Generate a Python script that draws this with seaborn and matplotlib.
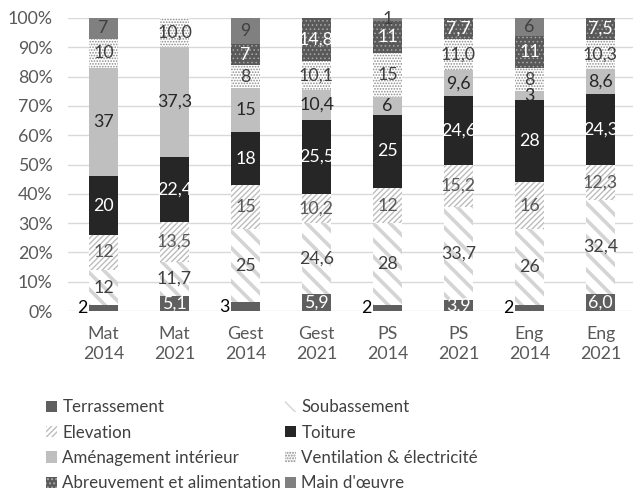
import matplotlib
matplotlib.use("Agg")
import matplotlib.pyplot as plt
from matplotlib.patches import Patch
import seaborn as sns
import numpy as np
import pandas as pd

sns.set_theme(style="white")
plt.rcParams["font.family"] = ["Lato", "DejaVu Sans"]

groups = ["Mat\n2014", "Mat\n2021", "Gest\n2014", "Gest\n2021",
          "PS\n2014", "PS\n2021", "Eng\n2014", "Eng\n2021"]
years = [2014, 2021, 2014, 2021, 2014, 2021, 2014, 2021]

series = ["Terrassement", "Soubassement", "Elevation", "Toiture",
          "Aménagement intérieur", "Ventilation & électricité",
          "Abreuvement et alimentation", "Main d'œuvre"]
terrassement = [2, 5.1, 3, 5.9, 2, 3.9, 2, 6.0]
soubassement = [12, 11.7, 25, 24.6, 28, 33.7, 26, 32.4]
elevation = [12, 13.5, 15, 10.2, 12, 15.2, 16, 12.3]
toiture = [20, 22.4, 18, 25.5, 25, 24.6, 28, 24.3]
amenagement = [37, 37.3, 15, 10.4, 6, 9.6, 3, 8.6]
ventilation = [10, 10.0, 8, 10.1, 15, 11.0, 8, 10.3]
abreuvement = [0, 0, 7, 14.8, 11, 7.7, 11, 7.5]
main_oeuvre = [7, 0, 9, 0, 1, 0, 6, 0]

values = np.array([terrassement, soubassement, elevation, toiture,
                   amenagement, ventilation, abreuvement, main_oeuvre], dtype=float)

# style per series: face, hatch colour, hatch, hatch lw, label colour
styles = [
    ("#5f5f5f", "#5f5f5f", None, 1.0, "white"),
    ("white", "#d4d4d4", "\\\\", 2.6, "#404040"),
    ("white", "#bdbdbd", "//////", 1.0, "#595959"),
    ("#262626", "#262626", None, 1.0, "white"),
    ("#bfbfbf", "#bfbfbf", None, 1.0, "#262626"),
    ("white", "#8c8c8c", "......", 0.8, "#404040"),
    ("#595959", "#a8a8a8", "....", 0.6, "white"),
    ("#808080", "#808080", None, 1.0, "#404040"),
]

# 100 % stacked
pct = values / values.sum(axis=0) * 100
tops = np.cumsum(pct, axis=0)
bottoms = tops - pct

rows = []
for si, s in enumerate(series):
    for gi, g in enumerate(groups):
        rows.append({"group": g, "series": s, "top": tops[si, gi]})
df = pd.DataFrame(rows)

fig = plt.figure(figsize=(6.33, 4.93), dpi=100)
ax = fig.add_axes([68 / 633, 1 - 311 / 493, 568 / 633, 293 / 493])

# draw cumulative bars from the top layer down so lower layers cover them
for si in range(len(series) - 1, -1, -1):
    face, hcol, hatch, hlw, _ = styles[si]
    n_before = len(ax.patches)
    sns.barplot(data=df[df["series"] == series[si]], x="group", y="top",
                order=groups, color=face, saturation=1, width=0.4,
                errorbar=None, ax=ax, edgecolor=hcol, linewidth=0,
                hatch=hatch)
    for p in ax.patches[n_before:]:
        p.set_facecolor(face)
        if hasattr(p, "set_hatch_linewidth"):
            p.set_hatch_linewidth(hlw)

# value labels
for si in range(len(series)):
    lab_col = styles[si][4]
    for gi in range(len(groups)):
        v = values[si, gi]
        if v == 0:
            continue
        txt = f"{v:.1f}".replace(".", ",") if years[gi] == 2021 else f"{v:.0f}"
        yc = bottoms[si, gi] + pct[si, gi] / 2
        if si == 0 and years[gi] == 2014:
            ax.text(gi - 0.22, yc, txt, ha="right", va="center",
                    fontsize=12.8, color="black")
        else:
            ax.text(gi, yc, txt, ha="center", va="center",
                    fontsize=12.8, color=lab_col)

ax.set_xlim(-0.5, 7.5)
ax.set_ylim(0, 100)
ax.set_yticks(np.arange(0, 101, 10))
ax.set_yticklabels([f"{t}%" for t in range(0, 101, 10)])
ax.set_xlabel("")
ax.set_ylabel("")
ax.yaxis.grid(True, color="#d9d9d9", linewidth=1)
ax.set_axisbelow(True)
for sp in ax.spines.values():
    sp.set_visible(False)
ax.tick_params(axis="both", length=0, labelsize=12.8, colors="#595959")
ax.tick_params(axis="y", pad=11)
ax.tick_params(axis="x", pad=11)
for t in ax.get_xticklabels():
    t.set_linespacing(1.3)

handles = []
for si, s in enumerate(series):
    face, hcol, hatch, hlw, _ = styles[si]
    handles.append(Patch(facecolor=face, edgecolor=hcol, hatch=hatch,
                         linewidth=0, label=s))
order = [0, 2, 4, 6, 1, 3, 5, 7]
fig.legend([handles[i] for i in order], [series[i] for i in order],
           ncol=2, loc="upper left", bbox_to_anchor=(31 / 633, 1 - 384 / 493),
           frameon=False, fontsize=12.2, handlelength=0.65, handleheight=0.65,
           handletextpad=0.3, columnspacing=0.25, labelspacing=0.55,
           labelcolor="#404040")

fig.savefig("out.png", dpi=100)
